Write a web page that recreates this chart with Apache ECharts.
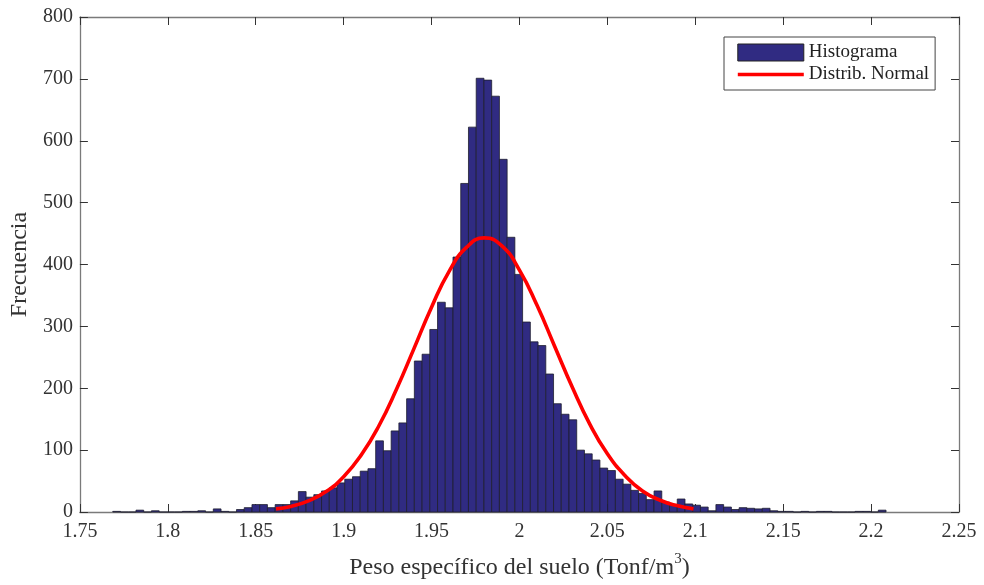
<!DOCTYPE html>
<html>
<head>
<meta charset="utf-8">
<script src="https://cdn.jsdelivr.net/npm/echarts@6/dist/echarts.min.js"></script>
<style>
html,body{margin:0;padding:0;background:#fff;}
#chart{width:984px;height:585px;}
</style>
</head>
<body>
<div id="chart"></div>
<script>
// Histogram: 100 bins between histMin and histMax
const histMin = 1.7687;
const histMax = 2.2085;
const counts = [
  1, 0, 0, 3, 0, 2, 0, 0, 0, 1,
  1, 2, 0, 5, 1, 0, 4, 7, 12, 12,
  7, 12, 12, 18, 33, 24, 28, 34, 39, 47,
  53, 57, 66, 70, 115, 99, 131, 144, 183, 244,
  255, 295, 339, 330, 412, 531, 622, 701, 698, 672,
  570, 444, 384, 307, 275, 269, 223, 175, 158, 149,
  100, 94, 84, 71, 67, 53, 45, 35, 30, 20,
  34, 16, 12, 21, 13, 11, 8, 2, 12, 8,
  4, 7, 6, 5, 6, 2, 1, 1, 0, 1,
  0, 1, 1, 0, 0, 0, 1, 1, 0, 3
];
// Normal distribution curve
const normX = [1.8615, 1.87, 1.88, 1.89, 1.90, 1.91, 1.92, 1.93, 1.94, 1.95, 1.96, 1.97, 1.98,
               1.99, 2.00, 2.01, 2.02, 2.03, 2.04, 2.05, 2.06, 2.07, 2.08, 2.09, 2.099];
const normY = [5, 9, 18, 33, 57, 92, 139, 198, 264, 331, 389, 428, 443,
               430, 391, 334, 268, 202, 142, 94, 59, 34, 19, 10, 5];
// Axis ticks
const xTicks = ['1.75', '1.8', '1.85', '1.9', '1.95', '2', '2.05', '2.1', '2.15', '2.2', '2.25'];
const yTicks = ['0', '100', '200', '300', '400', '500', '600', '700', '800'];

const nBins = counts.length;
const binW = (histMax - histMin) / nBins;
const histData = counts.map((c, i) => [histMin + i * binW, histMin + (i + 1) * binW, c]);
const curveData = normX.map((x, i) => [x, normY[i]]);

const FONT = 'Liberation Serif';
const AX = '#7a7a7a';
const BAR = '#302b82';

const chart = echarts.init(document.getElementById('chart'));
const baseX = {
  type: 'value', min: 1.75, max: 2.25, interval: 0.05,
  axisLine: { show: true, onZero: false, lineStyle: { color: AX, width: 1.3 } },
  axisTick: { show: true, inside: true, length: 8, lineStyle: { color: '#333', width: 1 } },
  splitLine: { show: false }
};
const baseY = {
  type: 'value', min: 0, max: 800, interval: 100,
  axisLine: { show: true, onZero: false, lineStyle: { color: AX, width: 1.3 } },
  axisTick: { show: true, inside: true, length: 8, lineStyle: { color: '#333', width: 1 } },
  splitLine: { show: false }
};
chart.setOption({
  animation: false,
  backgroundColor: '#fff',
  textStyle: { fontFamily: FONT },
  grid: { left: 79, right: 25, top: 17, bottom: 70, containLabel: false },
  legend: {
    orient: 'vertical',
    left: 724, top: 37,
    padding: [6, 6, 6, 12],
    itemGap: 3,
    itemWidth: 66, itemHeight: 17,
    backgroundColor: '#fff',
    borderColor: '#444', borderWidth: 1, borderRadius: 0,
    textStyle: { fontFamily: FONT, fontSize: 19, color: '#222' },
    data: [
      { name: 'Histograma', icon: 'rect', itemStyle: { color: BAR, borderColor: '#222', borderWidth: 1 } },
      { name: 'Distrib. Normal', itemStyle: { opacity: 0 }, lineStyle: { color: '#ff0000', width: 3.6, opacity: 1 } }
    ]
  },
  xAxis: [
    Object.assign({}, baseX, {
      position: 'bottom',
      axisLabel: {
        margin: 10, fontFamily: FONT, fontSize: 20, color: '#333',
        formatter: (v) => xTicks[Math.round((v - 1.75) / 0.05)]
      },
      name: '{a|Peso específico del suelo (Tonf/m}{s|3}{a|)}',
      nameLocation: 'middle', nameGap: 40,
      nameTextStyle: {
        rich: {
          a: { fontFamily: FONT, fontSize: 24, color: '#333', verticalAlign: 'bottom', lineHeight: 28 },
          s: { fontFamily: FONT, fontSize: 15, color: '#333', verticalAlign: 'top', lineHeight: 28, padding: [0, 0, 8, 0] }
        }
      }
    }),
    Object.assign({}, baseX, { position: 'top', axisLabel: { show: false } })
  ],
  yAxis: [
    Object.assign({}, baseY, {
      position: 'left',
      axisLabel: {
        margin: 7, fontFamily: FONT, fontSize: 20, color: '#333',
        formatter: (v) => yTicks[Math.round(v / 100)]
      },
      name: 'Frecuencia', nameLocation: 'middle', nameGap: 46,
      nameTextStyle: { fontFamily: FONT, fontSize: 24, color: '#333' }
    }),
    Object.assign({}, baseY, { position: 'right', axisLabel: { show: false } })
  ],
  series: [
    {
      name: 'Histograma',
      type: 'custom',
      xAxisIndex: 0, yAxisIndex: 0,
      itemStyle: { color: BAR, borderColor: '#222', borderWidth: 1 },
      encode: { x: [0, 1], y: 2 },
      data: histData,
      z: 2,
      renderItem: function (params, api) {
        const p0 = api.coord([api.value(0), 0]);
        const p1 = api.coord([api.value(1), api.value(2)]);
        return {
          type: 'rect',
          shape: { x: p0[0], y: p1[1], width: p1[0] - p0[0], height: p0[1] - p1[1] },
          style: { fill: BAR, stroke: '#1e1e2e', lineWidth: 0.8 }
        };
      }
    },
    {
      name: 'Distrib. Normal',
      type: 'line',
      xAxisIndex: 0, yAxisIndex: 0,
      data: curveData,
      smooth: true,
      symbol: 'none',
      lineStyle: { color: '#ff0000', width: 3.6 },
      itemStyle: { color: '#ff0000' },
      z: 3
    }
  ]
});
</script>
</body>
</html>
